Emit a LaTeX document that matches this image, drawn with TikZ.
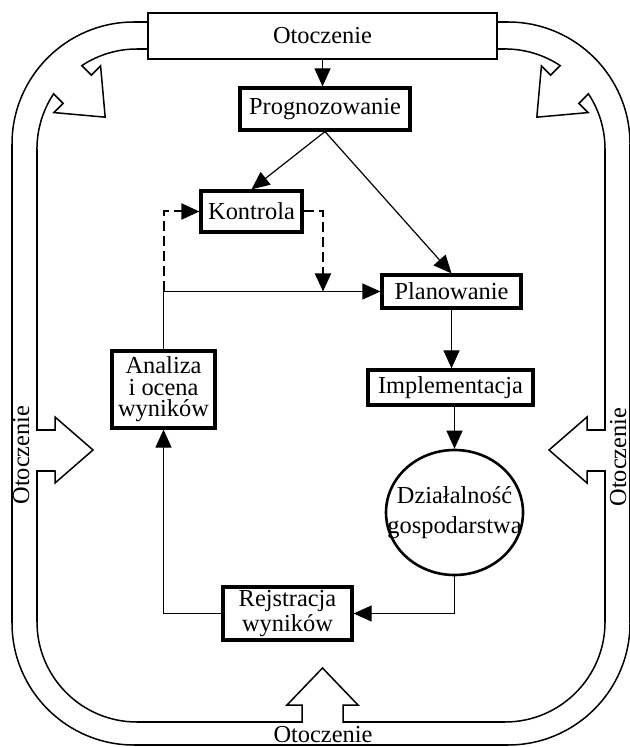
\documentclass[tikz,border=0pt]{standalone}
\usepackage{fontspec}
\setmainfont{Liberation Serif}
\usetikzlibrary{arrows.meta,shapes.geometric,calc}
\newcommand\diagfont{\fontsize{12.2pt}{10.75pt}\selectfont}
\newcommand\circfont{\fontsize{12.2pt}{15pt}\selectfont}
\begin{document}
\begin{tikzpicture}[x=0.5pt,y=-0.5pt,
  box/.style={draw, line width=1.6pt, inner sep=0pt, font=\diagfont, align=center},
  topbox/.style={draw, line width=1pt, inner sep=0pt, font=\diagfont},
  lbl/.style={inner sep=0pt, font=\diagfont},
  conn/.style={line width=0.6pt, -{Triangle[length=9pt,width=8pt]}},
  dconn/.style={line width=1pt, dash pattern=on 5pt off 2.5pt, -{Triangle[length=9pt,width=8pt]}},
  bandthin/.style={line width=0.75pt, line join=miter},
  bandthick/.style={line width=1.4pt}]
\useasboundingbox (0,0) rectangle (629,747);

% band (environment ring)
\draw[bandthin] (148,22) -- (134,22) arc[start angle=90,end angle=180,radius=61pt]
  -- (12,623) arc[start angle=180,end angle=270,radius=61pt]
  -- (508,745) arc[start angle=270,end angle=360,radius=61pt]
  -- (630,144) arc[start angle=0,end angle=90,radius=61pt] -- (497,22);
\draw[bandthin] (148,49) -- (137,49) arc[start angle=90,end angle=123.5,radius=50pt]
  -- (91.39,75.11) -- (100.58,65.92) -- (105.18,117.18) -- (53.92,112.58) -- (63.11,103.39) -- (53.58,93.86)
  arc[start angle=146.5,end angle=180,radius=50pt]
  -- (37,430) -- (55,430) -- (55,417) -- (93,450) -- (55,483) -- (55,471) -- (37,471) -- (37,622)
  arc[start angle=180,end angle=270,radius=50pt]
  -- (302,722) -- (302,705) -- (287,705) -- (322.5,668) -- (358,705) -- (343,705) -- (343,722) -- (505,722)
  arc[start angle=270,end angle=360,radius=50pt]
  -- (605,471) -- (587,471) -- (587,483) -- (549,450) -- (587,417) -- (587,430) -- (605,430) -- (605,149)
  arc[start angle=0,end angle=33.5,radius=50pt]
  -- (578.89,103.39) -- (588.08,112.58) -- (536.82,117.18) -- (541.42,65.92) -- (550.61,75.11) -- (560.14,65.58)
  arc[start angle=56.5,end angle=90,radius=50pt] -- (497,49);
% thicker straight parts
\draw[bandthick] (134,22) -- (148,22) (497,22) -- (508,22)
  (12,144) -- (12,623) (630,144) -- (630,623) (134,745) -- (508,745)
  (137,49) -- (148,49) (497,49) -- (505,49)
  (37,149) -- (37,430) -- (55,430) (55,471) -- (37,471) -- (37,622)
  (605,149) -- (605,430) -- (587,430) (587,471) -- (605,471) -- (605,622)
  (137,722) -- (302,722) (343,722) -- (505,722);

% environment labels
\node[topbox, minimum width=174.5pt, minimum height=23pt] (otoT) at (322.5,36) {Otoczenie};
\node[lbl, rotate=90, anchor=base] (otoL) at (29,455) {Otoczenie};
\node[lbl, rotate=90, anchor=base] (otoR) at (626,457) {Otoczenie};
\node[lbl, anchor=base] (otoB) at (323,742) {Otoczenie};

% process nodes
\node[box, minimum width=85pt, minimum height=21pt] (prog) at (325,109) {Prognozowanie};
\node[box, minimum width=50.5pt, minimum height=20.5pt] (kontr) at (251.5,211.5) {Kontrola};
\node[box, minimum width=69.5pt, minimum height=16.5pt] (plan) at (451.5,291.5) {Planowanie};
\node[box, minimum width=82.5pt, minimum height=17.5pt] (impl) at (450.5,387.5) {Implementacja};
\node[draw, ellipse, line width=1.3pt, inner sep=0pt, minimum width=68.5pt, minimum height=62.5pt] (circ) at (454.5,512.5) {};
\node[lbl, font=\circfont, align=center] (circtxt) at (454.5,512.5) {Działalność\\gospodarstwa};
\node[box, minimum width=51.5pt, minimum height=38.5pt] (anal) at (163.5,389.5) {Analiza\\i ocena\\wyników};
\node[box, minimum width=64.5pt, minimum height=26.5pt] (rejs) at (287.5,613.5) {Rejstracja\\wyników};

% connectors
\draw[conn] (otoT.south) -- (otoT.south |- prog.north);
\draw[conn] (prog.south) -- (kontr.north);
\draw[conn] (prog.south) -- (plan.north);
\coordinate (jn) at (anal.north |- plan.west);
\coordinate (kd) at (323,291.5);
\draw[conn] (anal.north) |- (plan.west);
\draw[dconn] (jn) |- (kontr.west);
\draw[dconn] (kontr.east) -| (kd);
\draw[conn] (plan.south) -- (plan.south |- impl.north);
\draw[conn] (circ.north |- impl.south) -- (circ.north);
\draw[conn] (circ.south) |- (rejs.east);
\draw[conn] (rejs.west) -| (anal.south);
\end{tikzpicture}
\end{document}
